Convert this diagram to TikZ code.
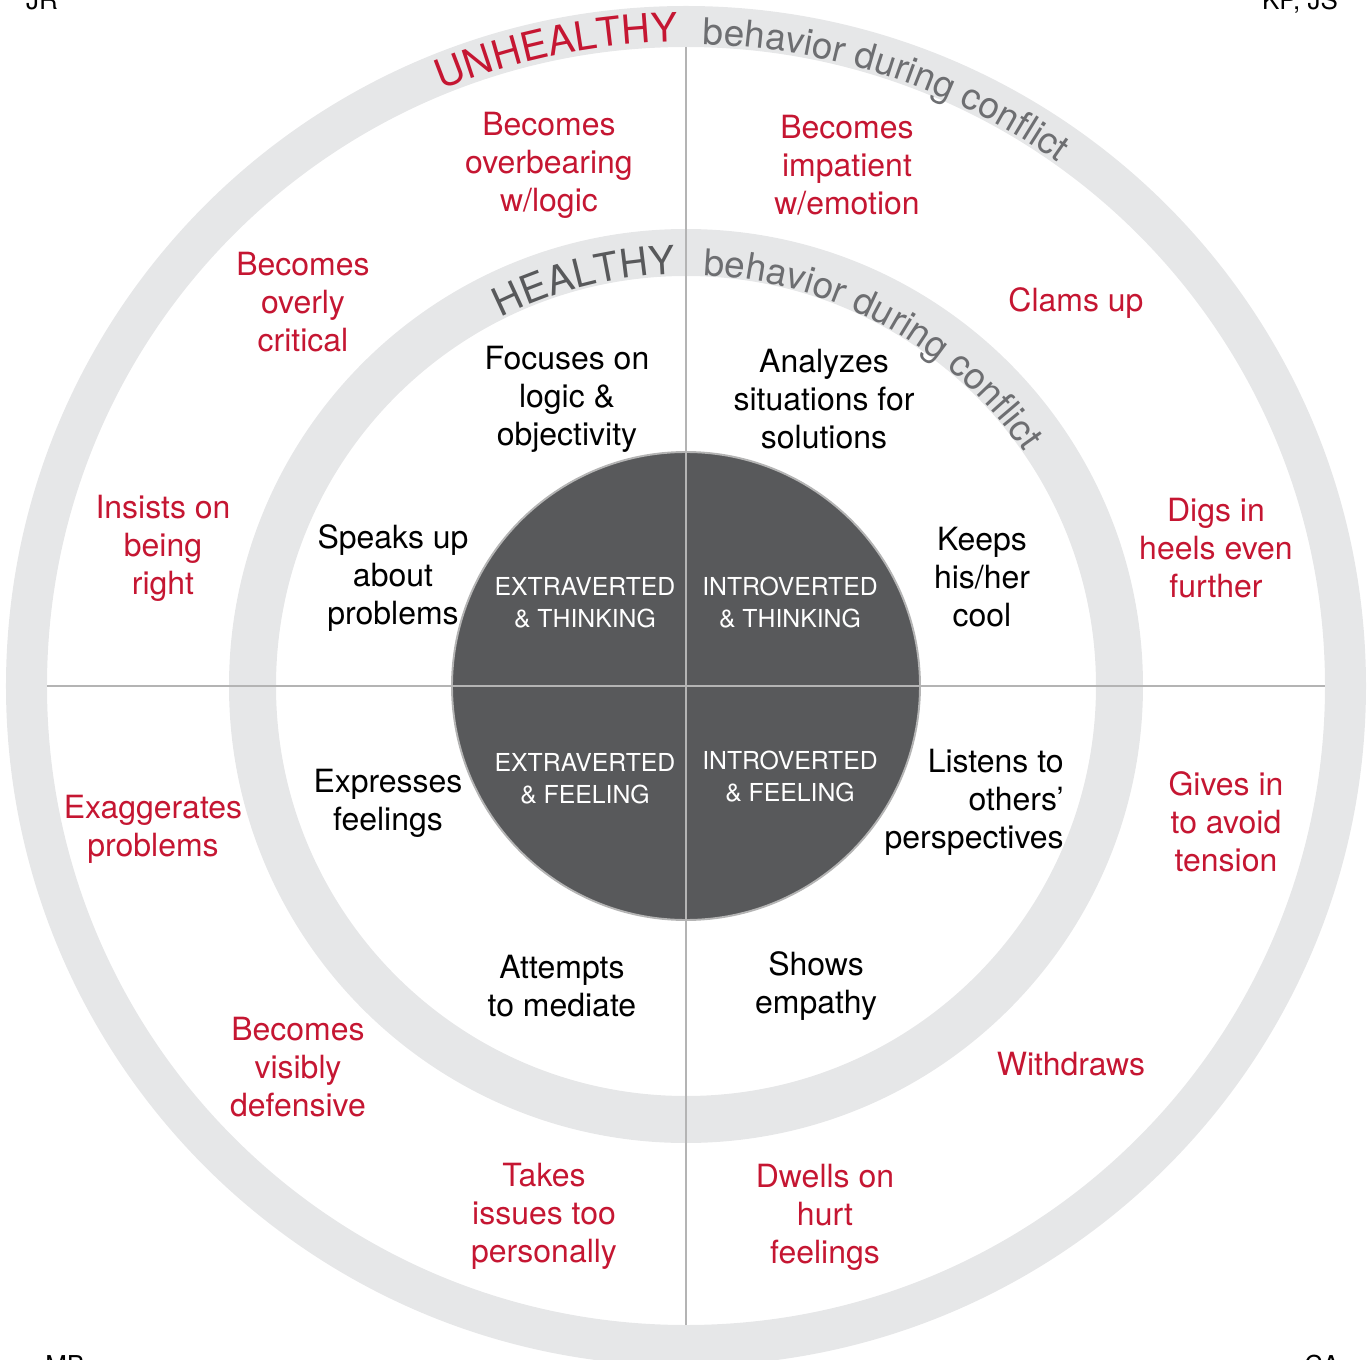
\documentclass[tikz,border=0pt]{standalone}
\usepackage{fontspec}
\setmainfont{TeX Gyre Heros}
\usetikzlibrary{decorations.text}
\definecolor{ringgray}{RGB}{230,231,232}
\definecolor{coregray}{RGB}{88,89,91}
\definecolor{linegray}{RGB}{180,180,180}
\definecolor{labelgray}{RGB}{109,110,113}
\definecolor{badred}{RGB}{197,22,50}
\begin{document}
\begin{tikzpicture}[x=0.02cm, y=0.02cm,
  bad/.style={text=badred, align=center, inner sep=0, font=\fontsize{18.2}{21.6}\selectfont},
  good/.style={text=black, align=center, inner sep=0, font=\fontsize{18.2}{21.6}\selectfont},
  core/.style={text=white, align=center, inner sep=0, font=\fontsize{14.1}{18.2}\selectfont},
  corner/.style={anchor=base, inner sep=0, font=\fontsize{14.8}{16}\selectfont}]
\useasboundingbox (-686,-673) rectangle (686,686);
\fill[ringgray, even odd rule] (0,0) circle[radius=680] (0,0) circle[radius=639];
\fill[ringgray, even odd rule] (0,0) circle[radius=457] (0,0) circle[radius=410];
\fill[coregray] (0,0) circle[radius=234];
\coordinate (top) at (0,639);
\coordinate (bot) at (0,-639);
\coordinate (lft) at (-639,0);
\coordinate (rgt) at (639,0);
\draw[linegray, line width=1.1pt] (top) -- (bot);
\draw[linegray, line width=1.1pt] (lft) -- (rgt);
\draw[linegray, line width=1.1pt] (0,0) circle[radius=234];
\path[decorate, decoration={text along path, text align=right, text color=badred,
  text={|\fontsize{22.8}{24}\selectfont|UNHEALTHY}}] (140:644) arc[start angle=140, end angle=90.7, radius=644];
\path[decorate, decoration={text along path, text align=left, text color=labelgray,
  text={|\fontsize{21}{24}\selectfont|behavior during conflict}}] (88.5:642) arc[start angle=88.5, end angle=20, radius=642];
\path[decorate, decoration={text along path, text align=right, text color=coregray,
  text={|\fontsize{22.5}{24}\selectfont|HEALTHY}}] (150:412) arc[start angle=150, end angle=91.4, radius=412];
\path[decorate, decoration={text along path, text align=left, text color=labelgray,
  text={|\fontsize{21}{24}\selectfont|behavior during conflict}}] (87.6:411) arc[start angle=87.6, end angle=10, radius=411];
\node[bad] (unh0) at (-137,521) {Becomes\\overbearing\\w/logic};
\node[bad] (unh1) at (161,521) {Becomes\\impatient\\w/emotion};
\node[bad] (unh2) at (-383,384) {Becomes\\overly\\critical};
\node[bad] (unh3) at (390,383) {Clams up};
\node[bad] (unh4) at (-523,138) {Insists on\\being\\right};
\node[bad] (unh5) at (530,138) {Digs in\\heels even\\further};
\node[bad] (unh6) at (-533,-143) {Exaggerates\\problems};
\node[bad] (unh7) at (540,-136) {Gives in\\to avoid\\tension};
\node[bad] (unh8) at (-388,-381) {Becomes\\visibly\\defensive};
\node[bad] (unh9) at (385,-378) {Withdraws};
\node[bad] (unh10) at (-142,-530) {Takes\\issues too\\personally};
\node[bad] (unh11) at (139,-531) {Dwells on\\hurt\\feelings};
\node[good] (hea0) at (-119,287) {Focuses on\\logic \&\\objectivity};
\node[good] (hea1) at (138,287) {Analyzes\\situations for\\solutions};
\node[good] (hea2) at (-293,108) {Speaks up\\about\\problems};
\node[good] (hea3) at (296,109) {Keeps\\his/her\\cool};
\node[good] (hea4) at (-298,-117) {Expresses\\feelings};
\node[good, align=right, anchor=east] (hea5) at (378,-116) {Listens to\\others’\\perspectives};
\node[good] (hea6) at (-124,-300) {Attempts\\to mediate};
\node[good] (hea7) at (130,-300) {Shows\\empathy};
\node[core] (core0) at (-101,83) {EXTRAVERTED\\\& THINKING};
\node[core] (core1) at (104,83) {INTROVERTED\\\& THINKING};
\node[core] (core2) at (-101,-93) {EXTRAVERTED\\\& FEELING};
\node[core] (core3) at (104,-91) {INTROVERTED\\\& FEELING};
\node[corner] (tl) at (-644,676) {JR};
\node[corner] (tr) at (614,676) {KP, JS};
\node[corner] (bl) at (-621,-688) {MB};
\node[corner] (br) at (636,-688) {CA};
\end{tikzpicture}
\end{document}
